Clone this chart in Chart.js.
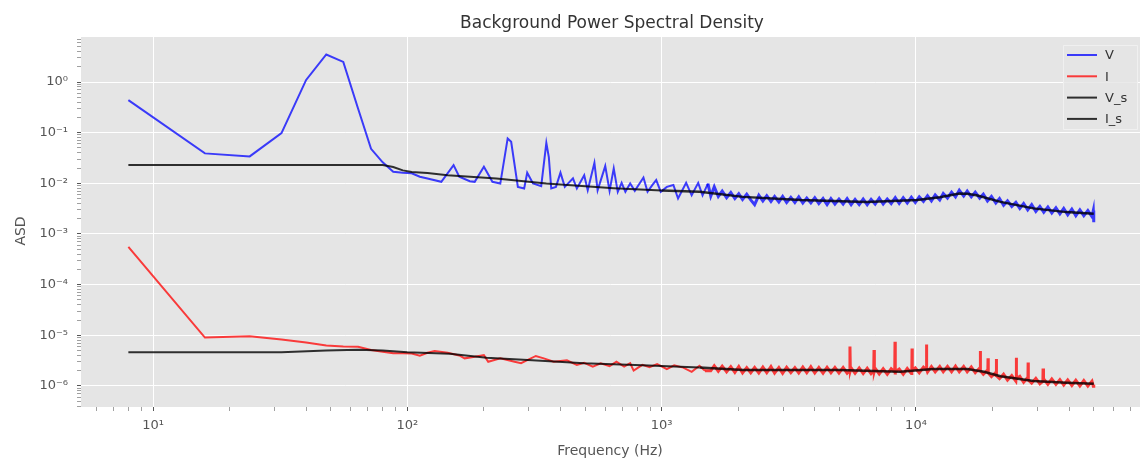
<!DOCTYPE html>
<html>
<head>
<meta charset="utf-8">
<script src="https://cdn.jsdelivr.net/npm/chart.js@4.4.1/dist/chart.umd.min.js"></script>
<style>
  html, body { margin: 0; padding: 0; background: #ffffff; }
</style>
</head>
<body>
<canvas id="psdChart" width="1140" height="460"></canvas>
<script>
// --- data ---
// raw V, low / mid frequencies (Hz)
const freqVLow = [8, 16, 24, 32, 40, 48, 56, 64, 72, 80, 88, 96, 104, 112, 120, 136, 152, 160, 176, 184,
  200, 216, 232, 248, 256, 272, 288, 296, 312, 336, 352, 360, 368, 384, 400, 416, 448, 464, 496, 512,
  544, 560, 600, 624, 648, 672, 696, 720, 752, 784, 848, 880, 920, 952, 992, 1048, 1112, 1160, 1248, 1312,
  1392, 1448, 1520];
const ampVLow = [0.44, 0.039, 0.034, 0.098, 1.1, 3.5, 2.5, 0.3, 0.048, 0.026, 0.0169, 0.0162, 0.0158, 0.0135, 0.0125, 0.0107, 0.0229, 0.0135, 0.011, 0.0107,
  0.0212, 0.0107, 0.0099, 0.077, 0.066, 0.0085, 0.0079, 0.0162, 0.0099, 0.0088, 0.063, 0.033, 0.0079, 0.0085, 0.0162, 0.0085, 0.0125, 0.0079, 0.0145, 0.0073,
  0.0254, 0.0073, 0.0219, 0.0071, 0.0197, 0.0068, 0.0102, 0.0068, 0.0099, 0.0071, 0.013, 0.0068, 0.0093, 0.0116, 0.0068, 0.0085, 0.0093, 0.005, 0.0102, 0.0058,
  0.0102, 0.0058, 0.0099];

// high frequency part, shared sample frequencies for V and I
const tailFreq = [1560, 1610, 1670, 1730, 1800, 1870, 1940, 2010, 2080, 2160,
  2240, 2320, 2410, 2500, 2590, 2690, 2780, 2890, 2990, 3100,
  3220, 3340, 3460, 3590, 3720, 3860, 4000, 4150, 4310, 4470,
  4630, 4800, 4980, 5170, 5360, 5560, 5760, 5980, 6200, 6430,
  6660, 6910, 7170, 7430, 7710, 7990, 8290, 8590, 8910, 9240,
  9590, 9940, 10300, 10700, 11100, 11500, 11900, 12400, 12800, 13300,
  13800, 14300, 14800, 15400, 15900, 16500, 17100, 17800, 18400, 19100,
  19800, 20600, 21300, 22100, 22900, 23800, 24700, 25600, 26500, 27500,
  28500, 29600, 30700, 31800, 33000, 34200, 35500, 36800, 38100, 39500,
  41000, 42500, 44100, 45700, 47400, 49200, 49800, 50000];
const ampVTail = [0.0056, 0.0085, 0.0055, 0.0070, 0.0052, 0.0066, 0.0050, 0.0062, 0.0048, 0.0061,
  0.0047, 0.0038, 0.0058, 0.0045, 0.0057, 0.0044, 0.0055, 0.0043, 0.0055, 0.0042,
  0.0053, 0.0042, 0.0054, 0.0041, 0.0051, 0.0041, 0.0052, 0.0040, 0.0050, 0.0038,
  0.0050, 0.0039, 0.0049, 0.0039, 0.0050, 0.0038, 0.0048, 0.0038, 0.0049, 0.0038,
  0.0048, 0.0039, 0.0051, 0.0039, 0.0049, 0.0040, 0.0052, 0.0040, 0.0052, 0.0041,
  0.0053, 0.0042, 0.0054, 0.0044, 0.0057, 0.0045, 0.0059, 0.0047, 0.0063, 0.0051,
  0.0067, 0.0054, 0.0073, 0.0056, 0.0070, 0.0054, 0.0067, 0.0051, 0.0061, 0.0045,
  0.0055, 0.0041, 0.0050, 0.0037, 0.0045, 0.0035, 0.0042, 0.0032, 0.0040, 0.0030,
  0.0038, 0.0028, 0.0035, 0.0027, 0.0034, 0.0026, 0.0033, 0.0025, 0.0032, 0.0024,
  0.0031, 0.0023, 0.0030, 0.0023, 0.0029, 0.0022, 0.0029, 0.0017];

// raw I
const freqILow = [8, 16, 24, 32, 40, 48, 56, 64, 72, 80, 88, 96, 104, 112, 120, 128, 144, 160, 168, 184,
  200, 208, 232, 264, 280, 320, 344, 376, 424, 464, 496, 536, 576, 624, 664, 712, 752, 776, 840, 896,
  960, 1048, 1120, 1216, 1312, 1408, 1480];
const ampILow = [5.56e-4, 9.0e-6, 9.55e-6, 8.2e-6, 7.2e-6, 6.3e-6, 6.0e-6, 5.9e-6, 5.1e-6, 4.7e-6,
  4.4e-6, 4.4e-6, 4.35e-6, 3.95e-6, 4.5e-6, 4.9e-6, 4.5e-6, 4.0e-6, 3.5e-6, 3.75e-6,
  4.05e-6, 3.0e-6, 3.5e-6, 3.0e-6, 2.8e-6, 3.9e-6, 3.5e-6, 3.0e-6, 3.2e-6, 2.6e-6,
  2.85e-6, 2.4e-6, 2.8e-6, 2.45e-6, 3.0e-6, 2.4e-6, 2.8e-6, 2.0e-6, 2.6e-6, 2.35e-6,
  2.7e-6, 2.15e-6, 2.55e-6, 2.3e-6, 1.9e-6, 2.5e-6, 2.0e-6];
const ampITail = [2.0e-6, 2.5e-6, 1.95e-6, 2.45e-6, 1.9e-6, 2.4e-6, 1.85e-6, 2.4e-6, 1.8e-6, 2.3e-6,
  1.82e-6, 2.3e-6, 1.8e-6, 2.35e-6, 1.82e-6, 2.4e-6, 1.8e-6, 2.3e-6, 1.78e-6, 2.32e-6,
  1.82e-6, 2.28e-6, 1.8e-6, 2.35e-6, 1.82e-6, 2.38e-6, 1.8e-6, 2.3e-6, 1.78e-6, 2.32e-6,
  1.82e-6, 2.3e-6, 1.8e-6, 2.3e-6, 1.78e-6, 2.27e-6, 1.77e-6, 2.26e-6, 1.75e-6, 2.22e-6,
  1.74e-6, 2.22e-6, 1.72e-6, 2.18e-6, 1.7e-6, 2.18e-6, 1.68e-6, 2.15e-6, 1.7e-6, 2.2e-6,
  1.76e-6, 2.26e-6, 1.82e-6, 2.35e-6, 1.87e-6, 2.4e-6, 1.9e-6, 2.42e-6, 1.9e-6, 2.42e-6,
  1.9e-6, 2.45e-6, 1.9e-6, 2.42e-6, 1.9e-6, 2.37e-6, 1.82e-6, 2.26e-6, 1.7e-6, 2.05e-6,
  1.53e-6, 1.84e-6, 1.39e-6, 1.7e-6, 1.3e-6, 1.6e-6, 1.24e-6, 1.54e-6, 1.18e-6, 1.47e-6,
  1.13e-6, 1.41e-6, 1.1e-6, 1.39e-6, 1.08e-6, 1.37e-6, 1.07e-6, 1.33e-6, 1.04e-6, 1.31e-6,
  1.02e-6, 1.29e-6, 1.0e-6, 1.27e-6, 0.99e-6, 1.24e-6, 0.98e-6, 1.05e-6];
// narrow line peaks in I
const spikeFreqI = [5480, 5500, 5520, 6820, 6840, 6860, 8250, 8270, 8290, 9630, 9650, 9670,
  10980, 11000, 11020, 17860, 17900, 17940, 19160, 19200, 19240, 20660, 20700, 20740,
  24750, 24800, 24850, 27550, 27600, 27650, 31550, 31600, 31650];
const spikeAmpI = [2.0e-6, 6.0e-6, 2.0e-6, 1.95e-6, 5.1e-6, 1.95e-6, 1.9e-6, 7.4e-6, 1.9e-6, 2.0e-6, 5.5e-6, 2.0e-6,
  2.1e-6, 6.6e-6, 2.1e-6, 2.0e-6, 4.9e-6, 2.0e-6, 1.8e-6, 3.5e-6, 1.8e-6, 1.6e-6, 3.4e-6, 1.6e-6,
  1.4e-6, 3.6e-6, 1.4e-6, 1.3e-6, 2.9e-6, 1.3e-6, 1.23e-6, 2.2e-6, 1.23e-6];

// smoothed curves
const freqVs = [8, 80, 88, 96, 104, 120, 144, 224, 352, 648, 1000, 1410, 2090, 3530, 6400, 10100, 12400, 14800, 15900, 17300, 21500, 29000, 39000, 50000];
const ampVs = [0.023, 0.023, 0.021, 0.018, 0.0167, 0.016, 0.0145, 0.0125, 0.0099, 0.008, 0.0072, 0.0068, 0.0054, 0.00466, 0.0043, 0.0047, 0.0053, 0.0063, 0.0062, 0.0058, 0.0043, 0.0032, 0.0027, 0.0025];
const freqIs = [8, 32, 48, 64, 80, 100, 147, 205, 310, 495, 840, 1410, 2090, 5000, 8640, 11700, 15900, 18500, 21500, 29000, 39000, 50000];
const ampIs = [4.6e-6, 4.6e-6, 5.0e-6, 5.15e-6, 5.0e-6, 4.6e-6, 4.3e-6, 3.6e-6, 3.2e-6, 2.8e-6, 2.56e-6, 2.3e-6, 2.05e-6, 2.05e-6, 1.9e-6, 2.15e-6, 2.15e-6, 1.9e-6, 1.55e-6, 1.25e-6, 1.16e-6, 1.1e-6];

const seriesNames = ['V', 'I', 'V_s', 'I_s'];
const xLabelDecades = [1, 2, 3, 4];
const yLabelDecades = [-6, -5, -4, -3, -2, -1, 0];
const xRange = [5.21, 76000];
const yRange = [3.83e-7, 7.75];

// --- helpers ---
const sup = { '0': '⁰', '1': '¹', '2': '²', '3': '³', '4': '⁴', '5': '⁵', '6': '⁶', '7': '⁷', '8': '⁸', '9': '⁹', '-': '⁻' };
function powLabel(e) {
  return '10' + String(e).split('').map(function (c) { return sup[c]; }).join('');
}
function decadeOf(v) {
  const l = Math.log10(v);
  const e = Math.round(l);
  return Math.abs(l - e) < 1e-6 ? e : null;
}
function logTicks(min, max) {
  const out = [];
  for (let e = Math.floor(Math.log10(min)); e <= Math.ceil(Math.log10(max)); e++) {
    for (let m = 1; m <= 9; m++) {
      const v = m * Math.pow(10, e);
      if (v >= min && v <= max) out.push({ value: v });
    }
  }
  return out;
}
function pts(xs, ys) {
  return xs.map(function (x, i) { return { x: x, y: ys[i] }; });
}
function isMajor(ctx) {
  return ctx.tick && decadeOf(ctx.tick.value) !== null;
}
// the dense noisy part of the spectrum is drawn a little heavier
function tailWidth(from, thin, thick) {
  return function (ctx) { return ctx.p0.parsed.x >= from ? thick : thin; };
}

const vPts = pts(freqVLow.concat(tailFreq), ampVLow.concat(ampVTail));
const iPts = pts(freqILow.concat(tailFreq, spikeFreqI), ampILow.concat(ampITail, spikeAmpI))
  .sort(function (a, b) { return a.x - b.x; });

const FONT = "'DejaVu Sans', 'Liberation Sans', sans-serif";
Chart.defaults.font.family = FONT;

// grey panel, titles and legend
const ggFrame = {
  id: 'ggFrame',
  beforeDraw: function (chart) {
    const a = chart.chartArea;
    const ctx = chart.ctx;
    ctx.save();
    ctx.fillStyle = '#e5e5e5';
    ctx.fillRect(a.left, a.top, a.right - a.left, a.bottom - a.top);
    ctx.restore();
  },
  afterDraw: function (chart) {
    const ctx = chart.ctx;
    ctx.save();
    ctx.fillStyle = '#333333';
    ctx.textAlign = 'center';
    ctx.textBaseline = 'alphabetic';
    ctx.font = '17px ' + FONT;
    ctx.fillText('Background Power Spectral Density', 612, 28);

    ctx.fillStyle = '#555555';
    ctx.font = '14px ' + FONT;
    ctx.fillText('Frequency (Hz)', 610, 455);
    ctx.save();
    ctx.translate(25, 231);
    ctx.rotate(-Math.PI / 2);
    ctx.fillText('ASD', 0, 0);
    ctx.restore();

    // legend
    const bx = 1063, by = 45, bw = 74, bh = 84;
    ctx.fillStyle = 'rgba(229,229,229,0.8)';
    ctx.strokeStyle = '#f0f0f0';
    ctx.lineWidth = 1;
    ctx.beginPath();
    ctx.rect(bx + 0.5, by + 0.5, bw, bh);
    ctx.fill();
    ctx.stroke();
    ctx.font = '13px ' + FONT;
    ctx.textAlign = 'left';
    ctx.textBaseline = 'middle';
    chart.data.datasets.forEach(function (ds, i) {
      const y = 55 + i * 21.3;
      ctx.strokeStyle = ds.borderColor;
      ctx.lineWidth = 2;
      ctx.beginPath();
      ctx.moveTo(1067, y);
      ctx.lineTo(1097, y);
      ctx.stroke();
      ctx.fillStyle = '#333333';
      ctx.fillText(ds.label, 1105, y + 1);
    });
    ctx.restore();
  }
};

function axisOptions(range, labelled, pos, fitFn) {
  return {
    type: 'logarithmic',
    position: pos,
    min: range[0],
    max: range[1],
    afterBuildTicks: function (scale) { scale.ticks = logTicks(scale.min, scale.max); },
    afterFit: fitFn,
    border: { display: false },
    grid: {
      color: function (ctx) { return isMajor(ctx) ? '#ffffff' : 'rgba(0,0,0,0)'; },
      lineWidth: 1,
      tickLength: 4,
      tickColor: function (ctx) { return isMajor(ctx) ? '#555555' : '#888888'; },
      tickWidth: function (ctx) { return isMajor(ctx) ? 1 : 0.8; }
    },
    ticks: {
      autoSkip: false,
      maxRotation: 0,
      minRotation: 0,
      padding: pos === 'left' ? 9 : 7,
      color: '#555555',
      font: { size: 13 },
      callback: function (value) {
        const e = decadeOf(value);
        return (e !== null && labelled.indexOf(e) >= 0) ? powLabel(e) : '';
      }
    }
  };
}

const ctx = document.getElementById('psdChart').getContext('2d');
const psdChart = new Chart(ctx, {
  type: 'line',
  data: {
    datasets: [
      { label: seriesNames[0], data: vPts, borderColor: 'rgba(0,0,255,0.75)', order: 1,
        segment: { borderWidth: tailWidth(1520, 2, 3) } },
      { label: seriesNames[1], data: iPts, borderColor: 'rgba(255,0,0,0.75)', order: 1,
        segment: { borderWidth: tailWidth(1480, 2, 3) } },
      { label: seriesNames[2], data: pts(freqVs, ampVs), borderColor: 'rgba(0,0,0,0.8)', order: 0,
        segment: { borderWidth: tailWidth(1000, 2, 2.5) } },
      { label: seriesNames[3], data: pts(freqIs, ampIs), borderColor: 'rgba(0,0,0,0.8)', order: 0,
        segment: { borderWidth: tailWidth(1000, 2, 2.5) } }
    ]
  },
  options: {
    responsive: false,
    animation: false,
    layout: { padding: { top: 37, left: 0, right: 0, bottom: 0 } },
    elements: {
      point: { radius: 0 },
      line: { borderWidth: 2, tension: 0, fill: false }
    },
    plugins: {
      legend: { display: false },
      title: { display: false },
      tooltip: { enabled: false }
    },
    scales: {
      x: axisOptions(xRange, xLabelDecades, 'bottom', function (s) { s.height = 53; }),
      y: axisOptions(yRange, yLabelDecades, 'left', function (s) { s.width = 81; })
    }
  },
  plugins: [ggFrame]
});
</script>
</body>
</html>
